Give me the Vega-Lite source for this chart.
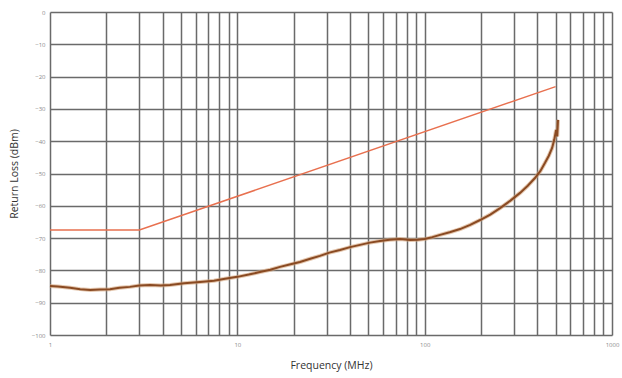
{
  "$schema": "https://vega.github.io/schema/vega-lite/v6.json",
  "width": 562,
  "height": 323,
  "autosize": {"type": "none"},
  "padding": {"left": 50, "top": 12, "right": 10, "bottom": 43},
  "background": "white",
  "config": {
    "view": {"stroke": null},
    "font": "Open Sans",
    "axis": {
      "gridColor": "#6a6a6a",
      "gridWidth": 1.5,
      "gridOpacity": 1,
      "domain": false,
      "ticks": false,
      "labelColor": "#8a8a8a",
      "labelFontSize": 6,
      "labelOverlap": false,
      "titleFont": "Open Sans",
      "titleFontWeight": "normal",
      "titleFontSize": 10.5,
      "titleColor": "#333333"
    }
  },
  "datasets": {
    "limit": [
      {"f": 1, "rl": -67.5},
      {"f": 3, "rl": -67.5},
      {"f": 500, "rl": -23.1}
    ],
    "meas": [
      {"f": 1.0, "rl": -84.8},
      {"f": 1.1, "rl": -85.0},
      {"f": 1.28, "rl": -85.4},
      {"f": 1.45, "rl": -85.8},
      {"f": 1.64, "rl": -86.1},
      {"f": 1.85, "rl": -85.9},
      {"f": 2.09, "rl": -85.8},
      {"f": 2.35, "rl": -85.4},
      {"f": 2.67, "rl": -85.1},
      {"f": 3.0, "rl": -84.7},
      {"f": 3.42, "rl": -84.5},
      {"f": 3.9, "rl": -84.7},
      {"f": 4.37, "rl": -84.5},
      {"f": 5.2, "rl": -84.0},
      {"f": 6.32, "rl": -83.6},
      {"f": 7.5, "rl": -83.2},
      {"f": 8.6, "rl": -82.6},
      {"f": 10.0, "rl": -82.0},
      {"f": 11.5, "rl": -81.3},
      {"f": 13.2, "rl": -80.5},
      {"f": 15.0, "rl": -79.8},
      {"f": 16.9, "rl": -78.9},
      {"f": 19.0, "rl": -78.2},
      {"f": 21.6, "rl": -77.4},
      {"f": 24.5, "rl": -76.4},
      {"f": 27.6, "rl": -75.5},
      {"f": 31.0, "rl": -74.5},
      {"f": 35.3, "rl": -73.7},
      {"f": 40.0, "rl": -72.8},
      {"f": 45.2, "rl": -72.1},
      {"f": 51.0, "rl": -71.4},
      {"f": 57.8, "rl": -70.9},
      {"f": 65.0, "rl": -70.5},
      {"f": 73.9, "rl": -70.3},
      {"f": 83.6, "rl": -70.6},
      {"f": 92.0, "rl": -70.5},
      {"f": 100.0, "rl": -70.3},
      {"f": 110.0, "rl": -69.7},
      {"f": 120.8, "rl": -69.0},
      {"f": 136.0, "rl": -68.2},
      {"f": 154.5, "rl": -67.2},
      {"f": 175.0, "rl": -65.9},
      {"f": 197.6, "rl": -64.4},
      {"f": 224.0, "rl": -62.7},
      {"f": 252.7, "rl": -60.7},
      {"f": 287.0, "rl": -58.4},
      {"f": 323.0, "rl": -56.0},
      {"f": 355.0, "rl": -53.8},
      {"f": 388.0, "rl": -51.4},
      {"f": 415.0, "rl": -49.2},
      {"f": 439.0, "rl": -46.7},
      {"f": 460.0, "rl": -44.5},
      {"f": 479.0, "rl": -42.1},
      {"f": 492.0, "rl": -39.5},
      {"f": 503.0, "rl": -36.5},
      {"f": 510.0, "rl": -38.5},
      {"f": 515.0, "rl": -33.4}
    ]
  },
  "encoding": {
    "x": {
      "field": "f", "type": "quantitative",
      "scale": {"type": "log", "domain": [1, 1000], "nice": false},
      "axis": {
        "values": [1,2,3,4,5,6,7,8,9,10,20,30,40,50,60,70,80,90,100,200,300,400,500,600,700,800,900,1000],
        "tickCount": 40,
        "labelExpr": "indexof([1,10,100,1000], datum.value) >= 0 ? datum.label : ''",
        "format": "d",
        "labelPadding": 6,
        "labelFlush": false,
        "title": "Frequency (MHz)",
        "titlePadding": 13
      }
    },
    "y": {
      "field": "rl", "type": "quantitative",
      "scale": {"domain": [-100, 0], "nice": false, "zero": false},
      "axis": {
        "values": [0, -10, -20, -30, -40, -50, -60, -70, -80, -90, -100],
        "tickCount": 20,
        "labelPadding": 5,
        "title": "Return Loss (dBm)",
        "titlePadding": 12
      }
    }
  },
  "layer": [
    {
      "data": {"name": "meas"},
      "mark": {"type": "line", "color": "#d2a27a", "strokeWidth": 4, "opacity": 0.6}
    },
    {
      "data": {"name": "meas"},
      "mark": {"type": "line", "color": "#8a4a22", "strokeWidth": 2}
    },
    {
      "data": {"name": "limit"},
      "mark": {"type": "line", "color": "#e8704f", "strokeWidth": 1.5}
    }
  ]
}
